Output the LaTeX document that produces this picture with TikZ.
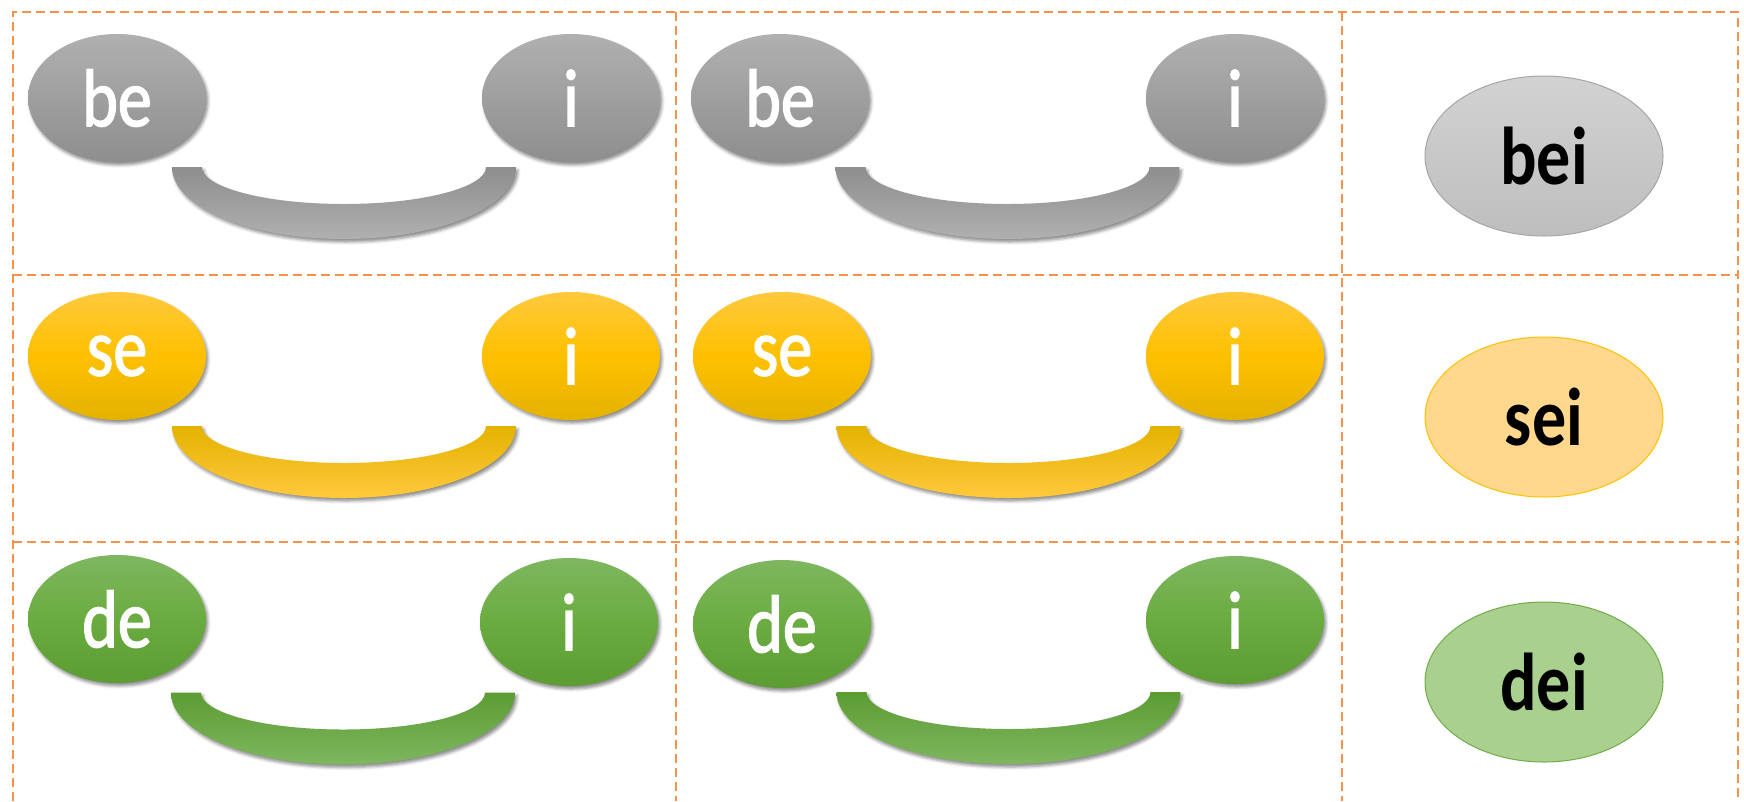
\documentclass[tikz,border=0pt]{standalone}
\usepackage{fontspec}
\setmainfont{Carlito}
\newfontfamily\condfont[FakeStretch=0.83]{Carlito}
\newfontfamily\whitefont[FakeStretch=0.83,FakeBold=1.6]{Carlito}
\usetikzlibrary{shapes.geometric,shadows.blur,calc}
\definecolor{dashor}{HTML}{F8924A}
\definecolor{gA}{HTML}{B0B0B0}
\definecolor{gB}{HTML}{8E8E8E}
\definecolor{yA}{HTML}{FFC93D}
\definecolor{yM}{HTML}{FFC000}
\definecolor{yB}{HTML}{E4B200}
\definecolor{nA}{HTML}{7EB75F}
\definecolor{nM}{HTML}{6AAC40}
\definecolor{nB}{HTML}{5C9C33}
\definecolor{rgA}{HTML}{D2D2D2}
\definecolor{rgB}{HTML}{BEBEBE}
\definecolor{rgD}{HTML}{A6A6A6}
\definecolor{ryF}{HTML}{FFD88E}
\definecolor{ryD}{HTML}{FFC000}
\definecolor{rnF}{HTML}{A9D08E}
\definecolor{rnD}{HTML}{70AD47}
\begin{document}
\begin{tikzpicture}[x=1pt,y=-1pt,
  gridline/.style={draw=dashor, line width=2.8pt, dash pattern=on 9pt off 5pt},
  softshadow/.style={blur shadow={shadow xshift=2pt, shadow yshift=-3pt, shadow blur radius=3pt, shadow opacity=45}},
  ell/.style={ellipse, minimum width=178pt, minimum height=128pt, inner sep=0pt,
    text=white, font=\whitefont\fontsize{82}{88}\selectfont, softshadow},
  grayell/.style={ell, top color=gA, bottom color=gB},
  yelell/.style={ell, top color=yA, bottom color=yB, middle color=yM},
  grnell/.style={ell, top color=nA, bottom color=nB, middle color=nM},
  result/.style={ellipse, minimum width=238pt, minimum height=160pt, inner sep=0pt,
    text=black, line width=1pt, font=\condfont\fontsize{82}{88}\selectfont\bfseries},
  smilecol/.code 2 args={\def\smt{#1}\def\smb{#2}},
  smile/.pic={
    \path[softshadow, top color=\smt, bottom color=\smb]
      (172,0) .. controls (172,40) and (95,72) .. (0,72)
      .. controls (-95,72) and (-172,40) .. (-172,0)
      -- (-142,0) .. controls (-142,20.4) and (-78.4,37) .. (0,37)
      .. controls (78.4,37) and (142,20.4) .. (142,0) -- cycle;
  }]
\useasboundingbox (0,0) rectangle (1744,801);

% dashed grid
\draw[gridline] (13,801) -- (13,12) -- (1738,12) -- (1738,801);
\draw[gridline] (676,12) -- (676,801);
\draw[gridline] (1342,12) -- (1342,801);
\draw[gridline] (13,275) -- (1738,275);
\draw[gridline] (13,542) -- (1738,542);

% row 1
\node[grayell] (be1) at (117,98) {be};
\node[grayell] (i1) at (571,98) {i};
\node[grayell] (be2) at (780,98) {be};
\node[grayell] (i2) at (1235,98) {i};
\pic[smilecol={gB}{gA}] at ($(be1)!0.5!(i1)+(0,69)$) {smile};
\pic[smilecol={gB}{gA}] at ($(be2)!0.5!(i2)+(0,69)$) {smile};
\node[result, draw=rgD, top color=rgA, bottom color=rgB] (bei) at (1544,156) {bei};

% row 2
\node[yelell] (se1) at (117,356) {se};
\node[yelell] (i3) at (571,356) {i};
\node[yelell] (se2) at (782,356) {se};
\node[yelell] (i4) at (1235,356) {i};
\pic[smilecol={yB}{yA}] at ($(se1)!0.5!(i3)+(0,70)$) {smile};
\pic[smilecol={yB}{yA}] at ($(se2)!0.5!(i4)+(0,70)$) {smile};
\node[result, draw=ryD, fill=ryF] (sei) at (1544,417) {sei};

% row 3
\node[grnell] (de1) at (117,619) {de};
\node[grnell] (i5) at (569,622) {i};
\node[grnell] (de2) at (782,624) {de};
\node[grnell] (i6) at (1235,620) {i};
\pic[smilecol={nB}{nA}] at ($(de1)!0.5!(i5)+(0,72)$) {smile};
\pic[smilecol={nB}{nA}] at ($(de2)!0.5!(i6)+(0,70)$) {smile};
\node[result, draw=rnD, fill=rnF] (dei) at (1544,682) {dei};
\end{tikzpicture}
\end{document}
